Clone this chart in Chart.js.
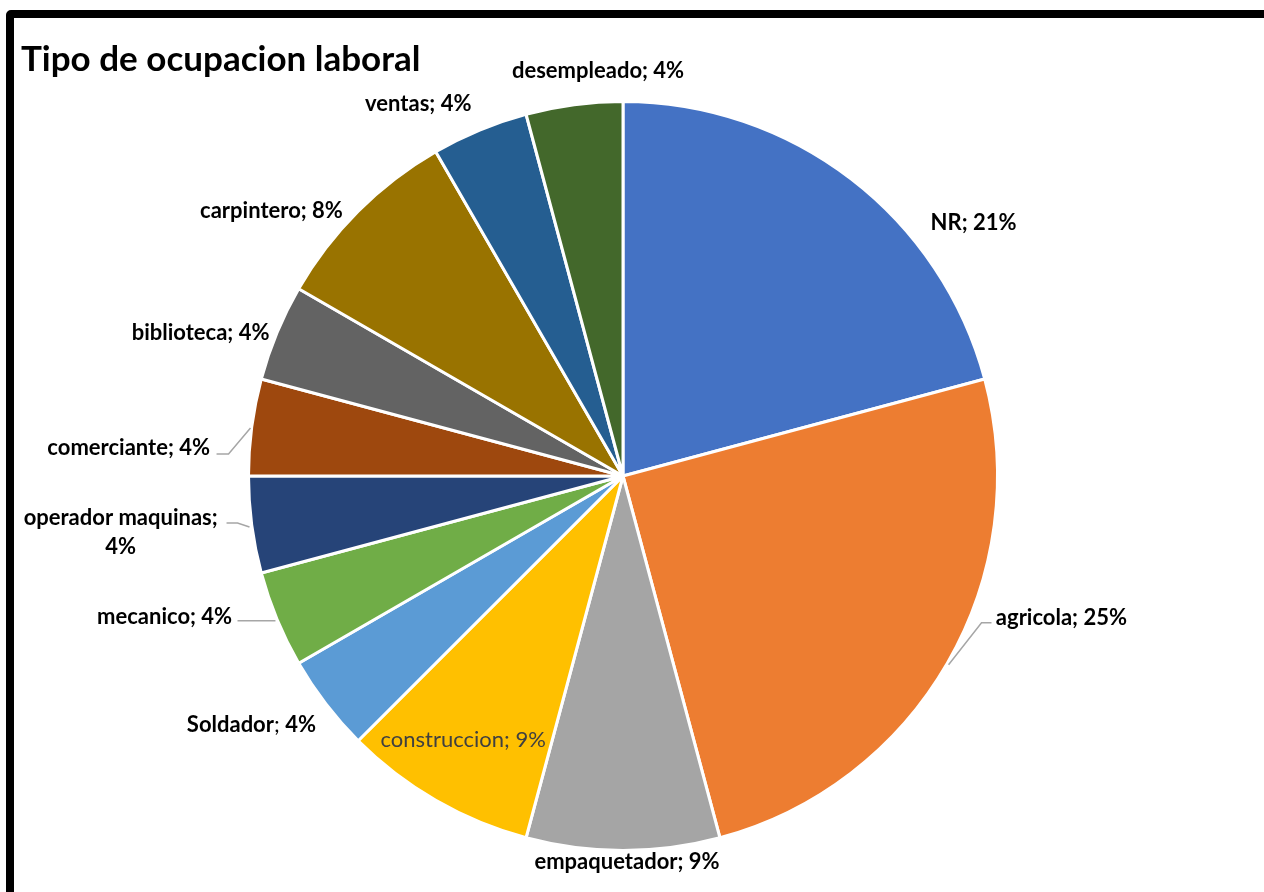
<!DOCTYPE html>
<html>
<head>
<meta charset="utf-8">
<script src="https://cdn.jsdelivr.net/npm/chart.js@4.4.1/dist/chart.umd.min.js"></script>
<style>
  html, body { margin: 0; padding: 0; background: #fff; overflow: hidden; }
  #wrap { position: relative; width: 1264px; height: 892px; }
  #frame { position: absolute; left: 6px; top: 10px; width: 1300px; height: 950px;
           border: 8px solid #000; border-radius: 5px; box-sizing: border-box; }
  canvas { position: absolute; left: 0; top: 0; }
</style>
</head>
<body>
<div id="wrap">
  <div id="frame"></div>
  <canvas id="myChart" width="1264" height="892"></canvas>
</div>
<script>
// data (slices are 1/24 steps, labels as printed)
const categories = ['NR', 'agricola', 'empaquetador', 'construccion', 'Soldador', 'mecanico',
  'operador maquinas', 'comerciante', 'biblioteca', 'carpintero', 'ventas', 'desempleado'];
const counts = [5, 6, 2, 2, 1, 1, 1, 1, 1, 2, 1, 1];
const percentLabels = ['21%', '25%', '9%', '9%', '4%', '4%', '4%', '4%', '4%', '8%', '4%', '4%'];
const colors = ['#4472C4', '#ED7D31', '#A5A5A5', '#FFC000', '#5B9BD5', '#70AD47',
  '#264478', '#9E480E', '#636363', '#997300', '#255E91', '#43682B'];

const FONT = 'Lato, "Open Sans", sans-serif';

// label placement, relative to pie centre, for a radius of 375
const labelPos = [[351, -253], [439, 142], [4, 386], [-160, 264], [-372, 249], [-459, 141],
  [-503, 42], [-495, -28], [-423, -143], [-352, -265], [-205, -373], [-25, -406]];
const leaders = {
  1: [[369, 147], [359, 147], [326, 189]],
  5: [[-386, 145], [-348, 145]],
  6: [[-397, 47], [-386, 47], [-374, 51]],
  7: [[-407, -22], [-395, -22], [-373, -48]]
};

const pieLabels = {
  id: 'pieLabels',
  afterDatasetsDraw(chart) {
    const ctx = chart.ctx;
    const arcs = chart.getDatasetMeta(0).data;
    const cx = arcs[0].x, cy = arcs[0].y;
    const k = arcs[0].outerRadius / 375;
    ctx.save();

    // title
    ctx.fillStyle = '#000';
    ctx.font = 'bold 35px ' + FONT;
    ctx.textAlign = 'left';
    ctx.textBaseline = 'alphabetic';
    ctx.fillText('Tipo de ocupacion laboral', 21, 71);

    // leader lines
    ctx.strokeStyle = '#A6A6A6';
    ctx.lineWidth = 1.5;
    Object.keys(leaders).forEach(i => {
      const pts = leaders[i];
      ctx.beginPath();
      pts.forEach((p, j) => {
        const x = cx + p[0] * k, y = cy + p[1] * k;
        if (j === 0) ctx.moveTo(x, y); else ctx.lineTo(x, y);
      });
      ctx.stroke();
    });

    ctx.textBaseline = 'middle';
    const bold = 'bold 22px ' + FONT, plain = '22px ' + FONT;
    arcs.forEach((arc, i) => {
      const x = cx + labelPos[i][0] * k;
      const y = cy + labelPos[i][1] * k;
      const name = categories[i];
      const pct = percentLabels[i];
      ctx.fillStyle = '#000';
      ctx.textAlign = 'center';
      if (i === 3) {
        ctx.font = plain;
        ctx.fillStyle = '#404040';
        ctx.fillText(name + '; ' + pct, x, y);
      } else if (i === 6) {
        ctx.font = bold;
        ctx.fillText(name + ';', x, y);
        ctx.fillText(pct, x, y + 29 * k);
      } else if (i === 4) {
        // bold name, plain separator, bold value
        ctx.font = bold; const w1 = ctx.measureText(name).width, w3 = ctx.measureText(pct).width;
        ctx.font = plain; const w2 = ctx.measureText('; ').width;
        let sx = x - (w1 + w2 + w3) / 2;
        ctx.textAlign = 'left';
        ctx.font = bold; ctx.fillText(name, sx, y); sx += w1;
        ctx.font = plain; ctx.fillText('; ', sx, y); sx += w2;
        ctx.font = bold; ctx.fillText(pct, sx, y);
      } else {
        ctx.font = bold;
        ctx.fillText(name + '; ' + pct, x, y);
      }
    });
    ctx.restore();
  }
};

const ctx = document.getElementById('myChart');
const myChart = new Chart(ctx, {
  type: 'pie',
  data: {
    labels: categories,
    datasets: [{
      data: counts,
      backgroundColor: colors,
      borderColor: '#fff',
      borderWidth: 3
    }]
  },
  options: {
    responsive: false,
    animation: false,
    layout: { padding: { left: 247, right: 265, top: 100, bottom: 40 } },
    plugins: {
      legend: { display: false },
      tooltip: { enabled: false }
    }
  },
  plugins: [pieLabels]
});
</script>
</body>
</html>
